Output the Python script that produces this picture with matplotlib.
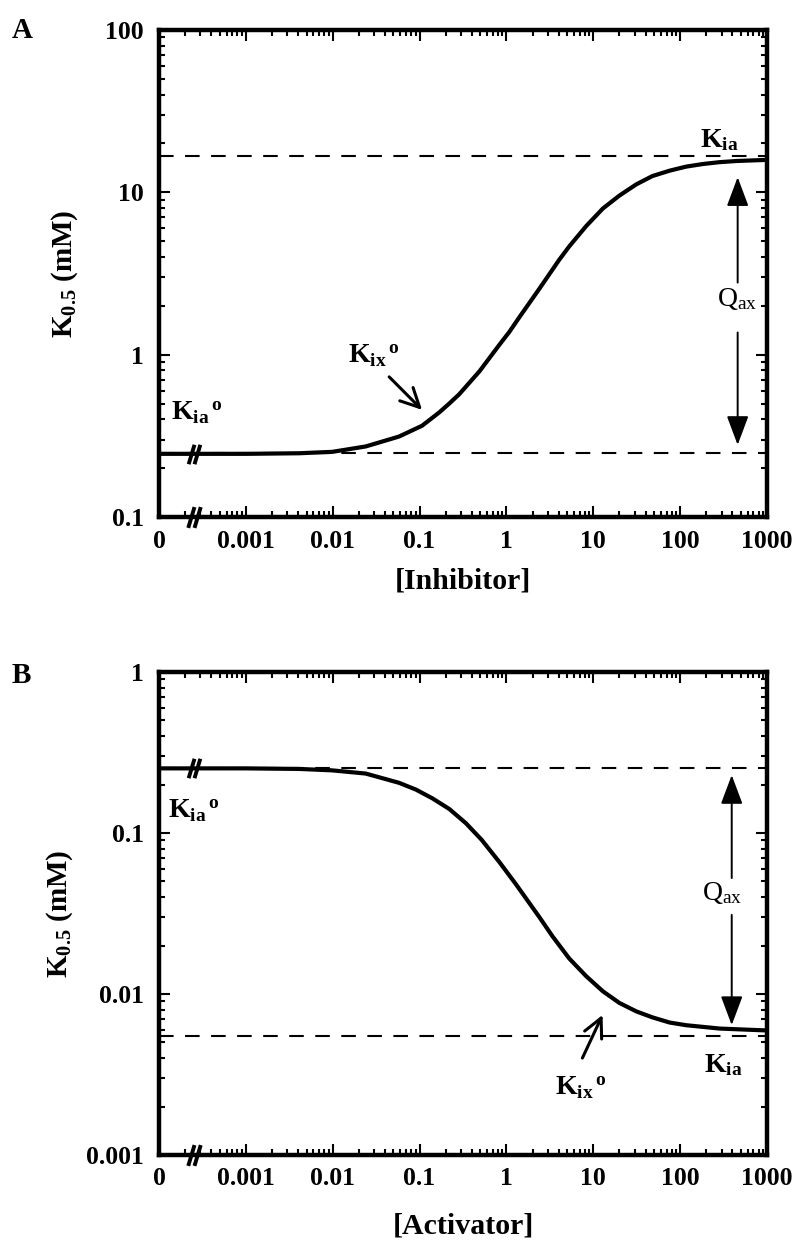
import numpy as np
import matplotlib
matplotlib.use("Agg")
import matplotlib.pyplot as plt
from matplotlib.path import Path
from matplotlib.ticker import LogLocator, FixedLocator, FixedFormatter, NullFormatter

plt.rcParams['font.family'] = ['Liberation Serif', 'DejaVu Serif']
plt.rcParams['mathtext.fontset'] = 'custom'
plt.rcParams['mathtext.rm'] = 'Liberation Serif:weight=normal'
plt.rcParams['mathtext.it'] = 'Liberation Serif:italic'
plt.rcParams['mathtext.bf'] = 'Liberation Serif:bold'

# [X] = 0 is drawn at the left edge of the broken log axis
zero_pos = 1e-4
break_pos = 2.5e-4

# panel A: inhibitor
inhib_x = [0, 0.001, 0.0041, 0.0099, 0.024, 0.058, 0.107, 0.168, 0.22, 0.286,
           0.49, 0.83, 1.08, 1.41, 2.4, 4.07, 5.3, 8.3, 12.9, 20, 31.3, 48,
           75.7, 117, 183, 286, 444, 1000]
inhib_k = [0.245, 0.245, 0.247, 0.252, 0.272, 0.313, 0.365, 0.44, 0.50, 0.57,
           0.79, 1.15, 1.38, 1.7, 2.55, 3.85, 4.65, 6.2, 7.95, 9.55, 11.2, 12.6,
           13.6, 14.4, 14.95, 15.35, 15.6, 15.85]
inhib_kia0 = 0.248
inhib_kia = 16.7

# panel B: activator
activ_x = [0, 0.001, 0.0041, 0.0098, 0.024, 0.058, 0.091, 0.141, 0.22, 0.342,
           0.52, 0.83, 1.29, 2.4, 3.4, 5.3, 8.3, 12.9, 20, 31.3, 48, 75.7,
           117, 286, 830, 1000]
activ_k = [0.252, 0.252, 0.25, 0.245, 0.234, 0.205, 0.186, 0.164, 0.141, 0.115,
           0.0906, 0.066, 0.048, 0.030, 0.0228, 0.0166, 0.0129, 0.0104, 0.0088,
           0.0078, 0.00716, 0.00665, 0.0064, 0.0061, 0.00596, 0.00594]
activ_kia0 = 0.252
activ_kia = 0.00548

x_ticks = [zero_pos, 0.001, 0.01, 0.1, 1, 10, 100, 1000]
x_ticklabels = ['0', '0.001', '0.01', '0.1', '1', '10', '100', '1000']

slash = Path([(-0.6, -1), (0.0, 1), (0.0, -1), (0.6, 1)],
             [Path.MOVETO, Path.LINETO, Path.MOVETO, Path.LINETO])

fig = plt.figure(figsize=(7.96, 12.41), dpi=100)
axA = fig.add_axes([0.1997, 0.5834, 0.7638, 0.3924])
axB = fig.add_axes([0.1997, 0.0693, 0.7638, 0.3892])


def style_axis(ax, ylim, yticks, ylabels):
    ax.set_xscale('log')
    ax.set_yscale('log')
    ax.set_xlim(zero_pos, 1000)
    ax.set_ylim(*ylim)
    for s in ax.spines.values():
        s.set_linewidth(3.2)
    ax.xaxis.set_major_locator(FixedLocator(x_ticks))
    ax.xaxis.set_major_formatter(FixedFormatter(x_ticklabels))
    ax.xaxis.set_minor_locator(LogLocator(base=10, subs=np.arange(2, 10), numticks=20))
    ax.xaxis.set_minor_formatter(NullFormatter())
    ax.yaxis.set_major_locator(FixedLocator(yticks))
    ax.yaxis.set_major_formatter(FixedFormatter(ylabels))
    ax.yaxis.set_minor_locator(LogLocator(base=10, subs=np.arange(2, 10), numticks=20))
    ax.yaxis.set_minor_formatter(NullFormatter())
    ax.tick_params(which='both', direction='in', top=True, right=True, width=1.5)
    ax.tick_params(which='major', length=8)
    ax.tick_params(which='minor', length=4)
    ax.tick_params(axis='x', which='major', labelsize=18.5, pad=9)
    ax.tick_params(axis='y', which='major', labelsize=18.5, pad=11)
    for lab in ax.get_xticklabels() + ax.get_yticklabels():
        lab.set_fontweight('bold')


def draw_panel(ax, xs, ks, kia0, kia, ymin):
    xplot = [zero_pos if v == 0 else v for v in xs]
    ax.axhline(kia0, color='k', lw=1.5, ls=(0, (7, 5.5)))
    ax.axhline(kia, color='k', lw=1.5, ls=(0, (7, 5.5)))
    ax.plot(xplot, ks, color='k', lw=3, solid_joinstyle='round', zorder=3)
    # axis breaks on the curve and on the x axis
    ax.plot([break_pos], [ks[0]], marker=slash, ms=14, mew=2.8, color='k',
            zorder=4, clip_on=False)
    ax.plot([break_pos], [ymin], marker=slash, ms=15, mew=2.8, color='k',
            zorder=4, clip_on=False)


q_arrow = dict(arrowstyle='-|>,head_length=1.2,head_width=0.45', lw=1.4,
               color='k', mutation_scale=15, shrinkA=0, shrinkB=0)
k_arrow = dict(arrowstyle='->,head_length=0.9,head_width=0.45', lw=2.2,
               color='k', mutation_scale=15, shrinkA=0, shrinkB=0)
kia0_lab = r'${\mathbf{K}_{\mathbf{ia}}}^{\,\mathbf{o}}$'
kix0_lab = r'${\mathbf{K}_{\mathbf{ix}}}^{\,\mathbf{o}}$'
kia_lab = r'$\mathbf{K}_{\mathbf{ia}}$'
qax_lab = r'$\mathrm{Q}_{\mathrm{ax}}$'

# ---- panel A
style_axis(axA, (0.1, 100), [0.1, 1, 10, 100], ['0.1', '1', '10', '100'])
draw_panel(axA, inhib_x, inhib_k, inhib_kia0, inhib_kia, 0.1)
axA.set_xlabel('[Inhibitor]', fontsize=21.5, fontweight='bold', va='top')
axA.xaxis.set_label_coords(0.5, -0.103)
axA.set_ylabel(r'$\mathbf{K}_{\mathbf{0.5}}$ (mM)', fontsize=21, fontweight='bold')
axA.yaxis.set_label_coords(-0.13, 0.5)
axA.annotate('', xy=(460, 12.4), xytext=(460, 2.78), arrowprops=q_arrow)
axA.annotate('', xy=(460, 0.278), xytext=(460, 1.37), arrowprops=q_arrow)
axA.text(460, 2.19, qax_lab, fontsize=20, ha='center', va='center')
axA.text(286, 20.9, kia_lab, fontsize=20, ha='center', va='center')
axA.text(2.72e-4, 0.438, kia0_lab, fontsize=20, ha='center', va='center')
axA.text(0.0299, 0.986, kix0_lab, fontsize=20, ha='center', va='center')
axA.annotate('', xy=(0.107, 0.457), xytext=(0.0447, 0.73), arrowprops=k_arrow)

# ---- panel B
style_axis(axB, (0.001, 1), [0.001, 0.01, 0.1, 1], ['0.001', '0.01', '0.1', '1'])
draw_panel(axB, activ_x, activ_k, activ_kia0, activ_kia, 0.001)
axB.set_xlabel('[Activator]', fontsize=21.5, fontweight='bold', va='top')
axB.xaxis.set_label_coords(0.5, -0.120)
axB.set_ylabel(r'$\mathbf{K}_{\mathbf{0.5}}$ (mM)', fontsize=21, fontweight='bold')
axB.yaxis.set_label_coords(-0.138, 0.5)
axB.annotate('', xy=(393, 0.229), xytext=(393, 0.0525), arrowprops=q_arrow)
axB.annotate('', xy=(393, 0.00641), xytext=(393, 0.031), arrowprops=q_arrow)
axB.text(309, 0.0424, qax_lab, fontsize=20, ha='center', va='center')
axB.text(318, 0.00362, kia_lab, fontsize=20, ha='center', va='center')
axB.text(2.5e-4, 0.137, kia0_lab, fontsize=20, ha='center', va='center')
axB.text(7.1, 0.0026, kix0_lab, fontsize=20, ha='center', va='center')
axB.annotate('', xy=(12.8, 0.00741), xytext=(7.5, 0.0040), arrowprops=k_arrow)

fig.text(0.015, 0.986, 'A', fontsize=21, fontweight='bold', va='top')
fig.text(0.015, 0.4666, 'B', fontsize=21, fontweight='bold', va='top')

fig.savefig('out.png', dpi=100)
